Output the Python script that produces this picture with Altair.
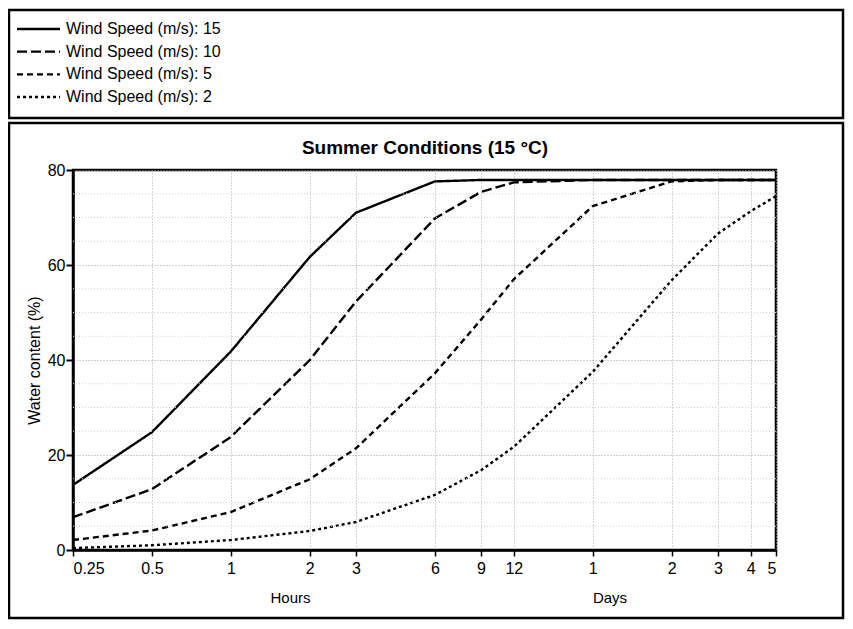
import altair as alt
import pandas as pd

# ---- data ----
hours = [0.25, 0.5, 1, 2, 3, 6, 9, 12, 24, 48, 72, 96, 120]
wind_15 = [13.7, 24.8, 41.8, 61.7, 71.0, 77.6, 77.9, 77.9, 77.9, 77.9, 77.9, 77.9, 77.9]
wind_10 = [6.9, 12.8, 23.8, 40.0, 52.3, 69.8, 75.4, 77.4, 77.9, 77.9, 77.9, 77.9, 77.9]
wind_5 = [2.1, 4.1, 8.0, 14.9, 21.4, 37.2, 48.5, 57.0, 72.4, 77.6, 77.9, 77.9, 77.9]
wind_2 = [0.4, 1.0, 2.1, 4.0, 5.9, 11.6, 16.8, 21.7, 37.5, 56.8, 66.6, 71.3, 74.5]

series_names = [
    "Wind Speed (m/s): 15",
    "Wind Speed (m/s): 10",
    "Wind Speed (m/s): 5",
    "Wind Speed (m/s): 2",
]
tick_hours = [0.25, 0.5, 1, 2, 3, 6, 9, 12, 24, 48, 72, 96, 120]
tick_labels = ["0.25", "0.5", "1", "2", "3", "6", "9", "12", "1", "2", "3", "4", "5"]
y_major = [0, 20, 40, 60, 80]
y_minor = [5, 10, 15, 25, 30, 35, 45, 50, 55, 65, 70, 75]

FONT = "Liberation Sans"

rows = []
for name, vals in zip(series_names, [wind_15, wind_10, wind_5, wind_2]):
    for h, v in zip(hours, vals):
        rows.append({"series": name, "hours": h, "value": v})
df = pd.DataFrame(rows)
legend_df = pd.DataFrame({"series": series_names})

label_expr = "[{}][indexof([{}], datum.value)]".format(
    ",".join(f"'{l}'" for l in tick_labels), ",".join(str(h) for h in tick_hours)
)

x_scale = alt.Scale(type="log", domain=[0.25, 120], nice=False)
y_scale = alt.Scale(domain=[0, 80], nice=False)
dash_scale = alt.Scale(domain=series_names, range=[[1, 0], [10, 4], [6, 4], [3, 3]])
# legend rows sit above the plot area, in the top panel
legend_y = alt.Y(
    "series:N",
    scale=alt.Scale(type="point", domain=series_names, range=[-141, -73], padding=0),
    axis=None,
)

# frames round legend panel and chart panel
frame_df = pd.DataFrame({"k": [0]})
legend_frame = alt.Chart(frame_df).mark_rect(
    fillOpacity=0, stroke="black", strokeWidth=2.5
).encode(x=alt.value(-64), x2=alt.value(770), y=alt.value(-160), y2=alt.value(-52))
chart_frame = alt.Chart(frame_df).mark_rect(
    fillOpacity=0, stroke="black", strokeWidth=2.5
).encode(x=alt.value(-64), x2=alt.value(770), y=alt.value(-47), y2=alt.value(448))

lines = alt.Chart(df).mark_line(color="black", strokeWidth=2.4).encode(
    x=alt.X(
        "hours:Q",
        scale=x_scale,
        axis=alt.Axis(
            values=tick_hours,
            labelExpr=label_expr,
            title="Hours",
            titleX=217,
            titleY=40,
            grid=True,
            gridDash=[1, 2],
            gridColor="#a8a8a8",
            tickSize=6,
            tickWidth=1.5,
            labelPadding=4,
        ),
    ),
    y=alt.Y(
        "value:Q",
        scale=y_scale,
        axis=alt.Axis(
            values=y_major,
            title="Water content (%)",
            titleFontSize=16,
            grid=True,
            gridDash=[1, 2],
            gridColor="#a0a0a0",
            tickSize=7,
            tickWidth=2,
            labelPadding=1,
            titlePadding=5,
        ),
    ),
    strokeDash=alt.StrokeDash("series:N", scale=dash_scale, legend=None),
    detail="series:N",
)

minor_grid = alt.Chart(pd.DataFrame({"level": y_minor})).mark_rule(
    color="#d0d0d0", strokeWidth=1, strokeDash=[1, 2]
).encode(y=alt.Y("level:Q", scale=y_scale, axis=None))

legend_lines = alt.Chart(legend_df).mark_rule(color="black", strokeWidth=2.4).encode(
    x=alt.value(-56),
    x2=alt.value(-13),
    y=legend_y,
    strokeDash=alt.StrokeDash("series:N", scale=dash_scale, legend=None),
)
legend_labels = alt.Chart(legend_df).mark_text(
    align="left", baseline="middle", fontSize=16, font=FONT, color="black"
).encode(x=alt.value(-7), y=legend_y, text="series:N")

title_text = alt.Chart(frame_df).mark_text(
    text="Summer Conditions (15 °C)", fontSize=19, fontWeight="bold",
    font=FONT, color="black", baseline="middle", align="center"
).encode(x=alt.value(352), y=alt.value(-22))

days_text = alt.Chart(frame_df).mark_text(
    text="Days", fontSize=15, font=FONT, color="black", baseline="middle"
).encode(x=alt.value(537), y=alt.value(428))

chart = (
    alt.layer(
        lines, minor_grid, legend_frame, chart_frame,
        legend_lines, legend_labels, title_text, days_text,
    )
    .resolve_scale(y="independent")
    .properties(
        width=703,
        height=380,
        autosize=alt.AutoSizeParams(type="none"),
        padding={"left": 65, "top": 162, "right": 69, "bottom": 71},
    )
    .configure(font=FONT)
    .configure_view(stroke="black", strokeWidth=2.5)
    .configure_axis(
        domainColor="black",
        domainWidth=2.5,
        tickColor="black",
        labelFontSize=16,
        labelColor="black",
        labelFont=FONT,
        titleFontSize=15,
        titleFontWeight="normal",
        titleColor="black",
        titleFont=FONT,
    )
)

chart.save("out.html", embed_options={"renderer": "svg", "actions": False})
